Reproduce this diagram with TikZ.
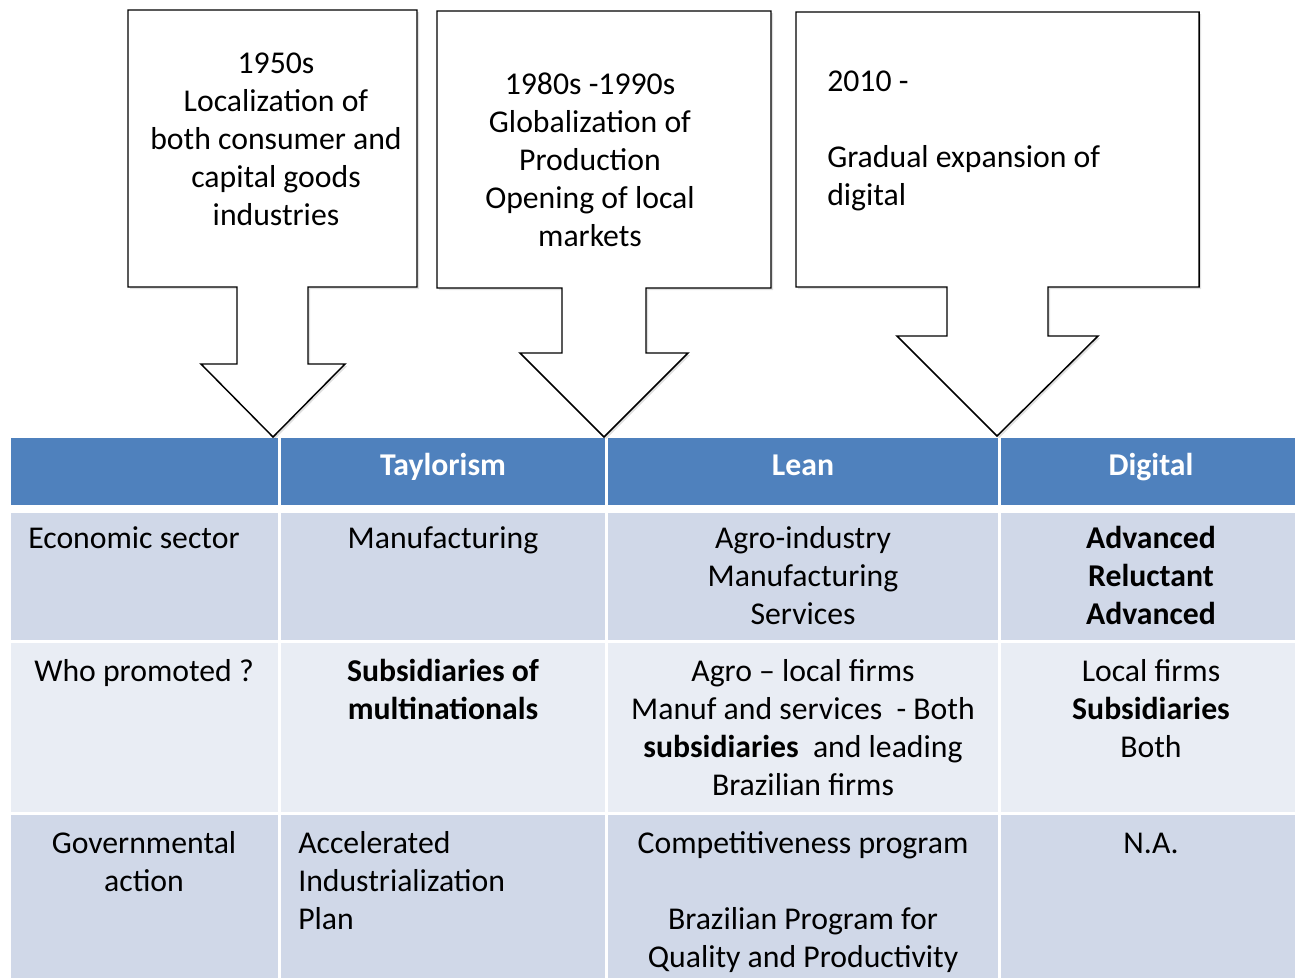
\documentclass[tikz,border=0pt]{standalone}
\usepackage{fontspec}
\setmainfont{Carlito}
\definecolor{hdrblue}{HTML}{4F81BD}
\definecolor{rowdark}{HTML}{D0D8E8}
\definecolor{rowlight}{HTML}{E9EDF4}
\begin{document}
\begin{tikzpicture}[x=0.75pt,y=-0.75pt,
  txt/.style={inner sep=0pt,font=\fontsize{23.8}{28.5}\selectfont,text=black},
  ctxt/.style={txt,anchor=north,align=center},
  ltxt/.style={txt,anchor=north west,align=left},
  htxt/.style={ctxt,text=white,font=\fontsize{23.8}{28.5}\selectfont\bfseries},
  callout/.style={draw=black,line width=1.1pt,fill=white,line join=miter},
  cshadow/.style={fill=black,opacity=0.12},
  hdrcell/.style={fill=hdrblue,draw=none},
  darkcell/.style={fill=rowdark,draw=none},
  lightcell/.style={fill=rowlight,draw=none}]
\useasboundingbox[fill=white] (0,0) rectangle (1295,978);

% ---- table ----
% header
\fill[hdrcell] (11,438) rectangle (278,505);
\fill[hdrcell] (281,438) rectangle (605,505);
\fill[hdrcell] (608,438) rectangle (998,505);
\fill[hdrcell] (1001,438) rectangle (1295,505);
% row 1
\fill[darkcell] (11,513) rectangle (278,640);
\fill[darkcell] (281,513) rectangle (605,640);
\fill[darkcell] (608,513) rectangle (998,640);
\fill[darkcell] (1001,513) rectangle (1295,640);
% row 2
\fill[lightcell] (11,643) rectangle (278,812);
\fill[lightcell] (281,643) rectangle (605,812);
\fill[lightcell] (608,643) rectangle (998,812);
\fill[lightcell] (1001,643) rectangle (1295,812);
% row 3
\fill[darkcell] (11,815) rectangle (278,978);
\fill[darkcell] (281,815) rectangle (605,978);
\fill[darkcell] (608,815) rectangle (998,978);
\fill[darkcell] (1001,815) rectangle (1295,978);

% ---- callouts ----
\fill[cshadow] (130,12) -- (419,12) -- (419,289) -- (310,289) -- (310,366) -- (347,366) -- (275,439) -- (203,366) -- (239,366) -- (239,289) -- (130,289) -- cycle;
\draw[callout] (128,10) -- (417,10) -- (417,287) -- (308,287) -- (308,364) -- (345,364) -- (273,437) -- (201,364) -- (237,364) -- (237,287) -- (128,287) -- cycle;

\fill[cshadow] (439,13) -- (773,13) -- (773,290) -- (648,290) -- (648,355) -- (690,355) -- (606,439) -- (522,355) -- (564,355) -- (564,290) -- (439,290) -- cycle;
\draw[callout] (437,11) -- (771,11) -- (771,288) -- (646,288) -- (646,353) -- (688,353) -- (604,437) -- (520,353) -- (562,353) -- (562,288) -- (437,288) -- cycle;

\fill[cshadow] (798,14) -- (1201,14) -- (1201,289) -- (1050,289) -- (1050,338) -- (1100,338) -- (999,438) -- (899,338) -- (949,338) -- (949,289) -- (798,289) -- cycle;
\draw[callout] (796,12) -- (1199,12) -- (1199,287) -- (1048,287) -- (1048,336) -- (1098,336) -- (997,436) -- (897,336) -- (947,336) -- (947,287) -- (796,287) -- cycle;

% callout texts
\node[ctxt] (c1) at (276,46.4) {\strut 1950s\\Localization of\\both consumer and\\capital goods\\industries};
\node[ctxt] (c2) at (590,67.4) {\strut 1980s -1990s\\Globalization of\\Production\\Opening of local\\markets};
\node[ltxt] (c3) at (827,64.4) {\strut 2010 -\\\mbox{}\\Gradual expansion of\\digital};

% header texts
\node[htxt] (h1) at (443,448.4) {\strut Taylorism};
\node[htxt] (h2) at (803,448.4) {\strut Lean};
\node[htxt] (h3) at (1151,448.4) {\strut Digital};

% row 1
\node[ltxt] (r1a) at (28,521.4) {\strut Economic sector};
\node[ctxt] (r1b) at (443,521.4) {\strut Manufacturing};
\node[ctxt] (r1c) at (803,521.4) {\strut Agro-industry\\Manufacturing\\Services};
\node[ctxt] (r1d) at (1151,521.4) {\strut\textbf{Advanced}\\\textbf{Reluctant}\\\textbf{Advanced}};

% row 2
\node[ctxt] (r2a) at (144,654.4) {\strut Who promoted ?};
\node[ctxt] (r2b) at (443,654.4) {\strut\textbf{Subsidiaries of}\\\textbf{multinationals}};
\node[ctxt] (r2c) at (803,654.4) {\strut Agro -- local firms\\Manuf and services\ \ - Both\\\textbf{subsidiaries}\ \ and leading\\Brazilian firms};
\node[ctxt] (r2d) at (1151,654.4) {\strut Local firms\\\textbf{Subsidiaries}\\Both};

% row 3
\node[ctxt] (r3a) at (144,826.4) {\strut Governmental\\action};
\node[ltxt] (r3b) at (298,826.4) {\strut Accelerated\\Industrialization\\Plan};
\node[ctxt] (r3c) at (803,826.4) {\strut Competitiveness program\\\mbox{}\\Brazilian Program for\\Quality and Productivity};
\node[ctxt] (r3d) at (1151,826.4) {\strut N.A.};
\end{tikzpicture}
\end{document}
